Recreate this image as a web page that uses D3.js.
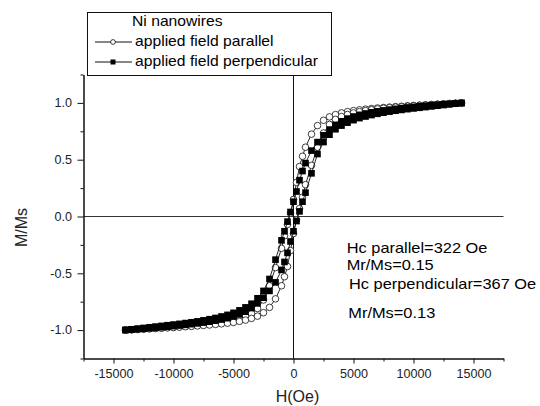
<!DOCTYPE html>
<html>
<head>
<meta charset="utf-8">
<script src="https://cdnjs.cloudflare.com/ajax/libs/d3/7.8.5/d3.min.js"></script>
<style>
body { margin: 0; background: #fff; }
svg { font-family: Arial, "Liberation Sans", sans-serif; }
</style>
</head>
<body>
<div id="chart"></div>
<script>
// applied field, in Oe (same grid for every branch, high to low)
var field = [14000, 13500, 13000, 12500, 12000, 11500, 11000, 10500, 10000, 9500,
    9000, 8500, 8000, 7500, 7000, 6500, 6000, 5500, 5000, 4500,
    4000, 3500, 3000, 2500, 2000, 1500, 1000,
    750, 500, 250, 0, -250, -500, -750,
    -1000, -1500, -2000, -2500, -3000, -3500, -4000, -4500, -5000, -5500,
    -6000, -6500, -7000, -7500, -8000, -8500, -9000, -9500, -10000, -10500,
    -11000, -11500, -12000, -12500, -13000, -13500, -14000];

// M/Ms, field going down (from +saturation)
var parallelDown = [1.000, 0.998, 0.995, 0.992, 0.989, 0.986, 0.983, 0.980, 0.977, 0.974,
    0.970, 0.967, 0.963, 0.959, 0.955, 0.950, 0.945, 0.939, 0.932, 0.923,
    0.912, 0.897, 0.877, 0.847, 0.800, 0.725, 0.610,
    0.530, 0.440, 0.300, 0.150, 0.030, -0.070, -0.170,
    -0.280, -0.450, -0.610, -0.735, -0.810, -0.855, -0.880, -0.898, -0.912, -0.923,
    -0.932, -0.940, -0.947, -0.953, -0.958, -0.963, -0.967, -0.971, -0.975, -0.978,
    -0.981, -0.984, -0.987, -0.990, -0.993, -0.996, -0.999];
// M/Ms, field going up (from -saturation)
var parallelUp = [0.999, 0.996, 0.993, 0.990, 0.987, 0.984, 0.981, 0.978, 0.975, 0.971,
    0.967, 0.963, 0.958, 0.953, 0.947, 0.940, 0.932, 0.923, 0.912, 0.898,
    0.880, 0.855, 0.810, 0.735, 0.610, 0.450, 0.280,
    0.170, 0.070, -0.030, -0.150, -0.300, -0.440, -0.530,
    -0.610, -0.725, -0.800, -0.847, -0.877, -0.897, -0.912, -0.923, -0.932, -0.939,
    -0.945, -0.950, -0.955, -0.959, -0.963, -0.967, -0.970, -0.974, -0.977, -0.980,
    -0.983, -0.986, -0.989, -0.992, -0.995, -0.998, -1.000];

var perpDown = [1.000, 0.996, 0.992, 0.988, 0.984, 0.980, 0.975, 0.970, 0.965, 0.960,
    0.954, 0.948, 0.941, 0.934, 0.926, 0.917, 0.907, 0.895, 0.880, 0.862,
    0.838, 0.806, 0.765, 0.715, 0.655, 0.580, 0.470,
    0.400, 0.320, 0.220, 0.130, 0.040, -0.045, -0.130,
    -0.210, -0.380, -0.550, -0.655, -0.720, -0.768, -0.800, -0.826, -0.848, -0.866,
    -0.880, -0.893, -0.904, -0.914, -0.923, -0.931, -0.938, -0.945, -0.951, -0.957,
    -0.963, -0.969, -0.975, -0.981, -0.987, -0.993, -0.998];
var perpUp = [0.998, 0.993, 0.987, 0.981, 0.975, 0.969, 0.963, 0.957, 0.951, 0.945,
    0.938, 0.931, 0.923, 0.914, 0.904, 0.893, 0.880, 0.866, 0.848, 0.826,
    0.800, 0.768, 0.720, 0.655, 0.550, 0.380, 0.210,
    0.130, 0.045, -0.040, -0.130, -0.220, -0.320, -0.400,
    -0.470, -0.580, -0.655, -0.715, -0.765, -0.806, -0.838, -0.862, -0.880, -0.895,
    -0.907, -0.917, -0.926, -0.934, -0.941, -0.948, -0.954, -0.960, -0.965, -0.970,
    -0.975, -0.980, -0.984, -0.988, -0.992, -0.996, -1.000];

var xTicks = [-15000, -10000, -5000, 0, 5000, 10000, 15000];
var xMinor = [-17500, -12500, -7500, -2500, 2500, 7500, 12500, 17500];
var yTicks = [-1.0, -0.5, 0.0, 0.5, 1.0];
var yMinor = [-1.25, -0.75, -0.25, 0.25, 0.75, 1.25];

var legendTitle = "Ni nanowires";
var seriesNames = ["applied field parallel", "applied field perpendicular"];
var notes = ["Hc parallel=322 Oe", "Mr/Ms=0.15", "Hc perpendicular=367 Oe", "Mr/Ms=0.13"];
var xTitle = "H(Oe)";
var yTitle = "M/Ms";

function loop(down, up) {
    var a = field.map(function (h, i) { return { h: h, m: down[i] }; });
    var b = field.map(function (h, i) { return { h: h, m: up[i] }; }).reverse();
    return a.concat(b);
}

drawLoops();

function drawLoops() {
    var w = 540, h = 406;
    var svg = d3.select("#chart").append("svg").attr("width", w).attr("height", h);
    var x = d3.scaleLinear().domain([-17500, 17500]).range([83.5, 503.5]);
    var y = d3.scaleLinear().domain([-1.25, 1.25]).range([358.5, 74.5]);
    var ink = "#111";

    // zero lines
    svg.append("line").attr("x1", x(-17500)).attr("x2", x(17500))
        .attr("y1", y(0)).attr("y2", y(0)).attr("stroke", "#333");
    svg.append("line").attr("x1", x(0)).attr("x2", x(0))
        .attr("y1", y(1.25)).attr("y2", y(-1.25)).attr("stroke", ink);

    // axes
    svg.append("g").attr("transform", "translate(0," + y(-1.25) + ")")
        .call(d3.axisBottom(x).tickValues(xTicks).tickSize(5).tickPadding(6).tickSizeOuter(0)
            .tickFormat(function (d) { return String(d); }));
    svg.append("g").attr("transform", "translate(0," + y(-1.25) + ")")
        .call(d3.axisBottom(x).tickValues(xMinor).tickSize(3).tickSizeOuter(0).tickFormat(""));
    svg.append("g").attr("transform", "translate(" + x(-17500) + ",0)")
        .call(d3.axisLeft(y).tickValues(yTicks).tickSize(6).tickPadding(5).tickSizeOuter(0)
            .tickFormat(function (d) { return d.toFixed(1); }));
    svg.append("g").attr("transform", "translate(" + x(-17500) + ",0)")
        .call(d3.axisLeft(y).tickValues(yMinor).tickSize(3).tickSizeOuter(0).tickFormat(""));
    svg.selectAll(".domain").attr("stroke", ink);
    svg.selectAll(".tick line").attr("stroke", ink);
    svg.selectAll(".tick text").attr("font-size", 12).attr("fill", "#222")
        .attr("font-family", "Arial, 'Liberation Sans', sans-serif")
        .attr("transform", "scale(1.05,1)");

    // axis titles
    svg.append("text").attr("transform", "translate(26.5,227.5) rotate(-90)")
        .attr("text-anchor", "middle").attr("font-size", 16).attr("fill", "#222").text(yTitle);
    svg.append("text").attr("x", 297.5).attr("y", 401.5)
        .attr("text-anchor", "middle").attr("font-size", 16).attr("fill", "#222").text(xTitle);

    var line = d3.line().x(function (d) { return x(d.h); }).y(function (d) { return y(d.m); });

    // parallel: open circles
    var par = loop(parallelDown, parallelUp);
    svg.append("path").datum(par).attr("d", line).attr("fill", "none")
        .attr("stroke", ink).attr("stroke-width", 0.9);
    svg.selectAll("circle.par").data(par).enter().append("circle").attr("class", "par")
        .attr("cx", function (d) { return x(d.h); })
        .attr("cy", function (d) { return y(d.m); })
        .attr("r", 3.3).attr("fill", "#fff").attr("stroke", ink).attr("stroke-width", 0.8);

    // perpendicular: filled squares
    var per = loop(perpDown, perpUp);
    svg.append("path").datum(per).attr("d", line).attr("fill", "none")
        .attr("stroke", ink).attr("stroke-width", 0.9);
    var s = 6.6;
    svg.selectAll("rect.per").data(per).enter().append("rect").attr("class", "per")
        .attr("x", function (d) { return x(d.h) - s / 2; })
        .attr("y", function (d) { return y(d.m) - s / 2; })
        .attr("width", s).attr("height", s).attr("fill", "#000");

    // legend
    var lg = svg.append("g");
    lg.append("rect").attr("x", 87.5).attr("y", 12.5).attr("width", 244).attr("height", 63)
        .attr("fill", "#fff").attr("stroke", ink);
    lg.append("text").attr("transform", "translate(132,26) scale(1.12,1)")
        .attr("font-size", 14).attr("fill", "#000").text(legendTitle);
    [42, 62].forEach(function (ly, i) {
        lg.append("line").attr("x1", 95).attr("x2", 132).attr("y1", ly).attr("y2", ly)
            .attr("stroke", ink);
        if (i == 0) {
            lg.append("circle").attr("cx", 113).attr("cy", ly).attr("r", 2.4)
                .attr("fill", "#fff").attr("stroke", ink).attr("stroke-width", 0.8);
        } else {
            lg.append("rect").attr("x", 110.5).attr("y", ly - 2.5).attr("width", 5).attr("height", 5)
                .attr("fill", "#000");
        }
        lg.append("text").attr("transform", "translate(135," + (ly + 4) + ") scale(1.12,1)")
            .attr("font-size", 14).attr("fill", "#000").text(seriesNames[i]);
    });

    // notes on coercivity / remanence
    var notePos = [[346.7, 252.5], [346.7, 270], [349, 288.5], [348.3, 317.5]];
    notes.forEach(function (t, i) {
        svg.append("text")
            .attr("transform", "translate(" + notePos[i][0] + "," + notePos[i][1] + ") scale(1.13,1)")
            .attr("font-size", 14.5).attr("fill", "#000").text(t);
    });
}
</script>
</body>
</html>
